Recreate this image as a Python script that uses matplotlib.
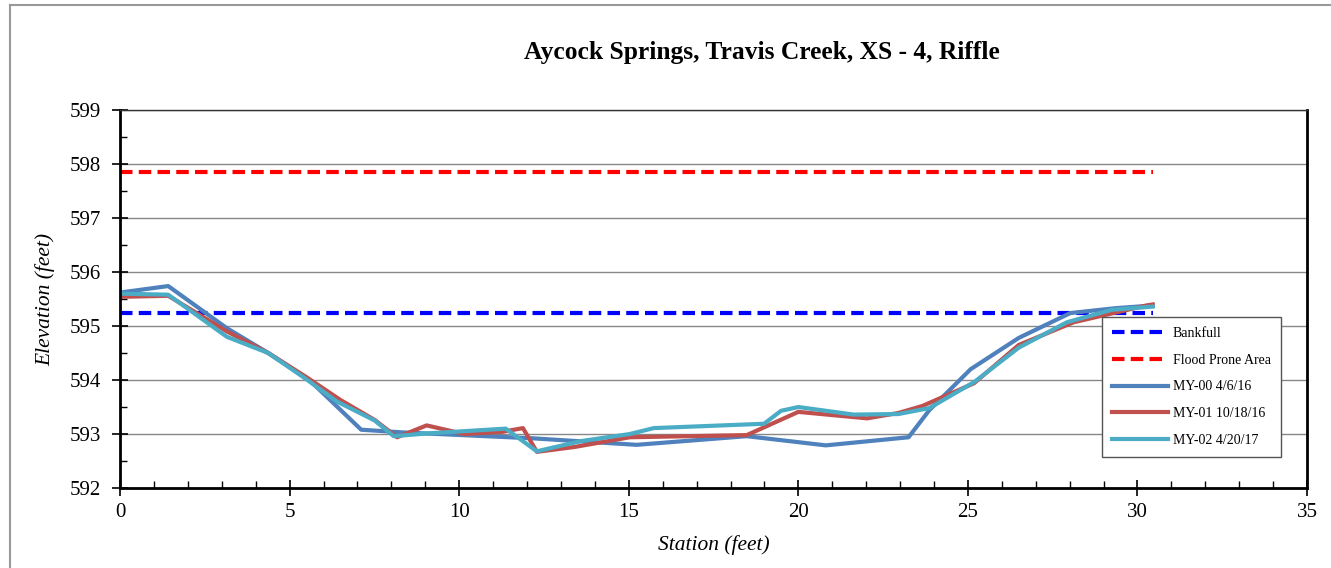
import matplotlib.pyplot as plt
from matplotlib.ticker import MultipleLocator
from matplotlib.lines import Line2D

plt.rcParams['font.family'] = ['Liberation Serif', 'DejaVu Serif']

# survey data (station ft, elevation ft)
st_00 = [0, 1.42, 3.15, 4.37, 5.58, 7.11, 8.33, 12.18, 15.23, 18.48, 20.81, 23.25, 23.86, 25.08, 26.5, 28.02, 29.34, 30.45]
el_00 = [595.62, 595.74, 594.96, 594.5, 594.0, 593.08, 593.03, 592.92, 592.8, 592.96, 592.79, 592.94, 593.44, 594.2, 594.78, 595.24, 595.33, 595.38]

st_01 = [0, 1.42, 3.15, 4.37, 5.48, 6.5, 7.51, 8.17, 9.04, 10.15, 11.27, 11.88, 12.29, 13.4, 15.03, 18.48, 20.0, 22.03, 22.95, 23.66, 25.18, 26.5, 28.12, 30.26, 30.45]
el_01 = [595.54, 595.56, 594.9, 594.5, 594.06, 593.63, 593.26, 592.94, 593.16, 593.0, 593.04, 593.11, 592.67, 592.76, 592.94, 592.98, 593.41, 593.29, 593.39, 593.52, 593.94, 594.65, 595.07, 595.38, 595.4]

st_02 = [0, 1.42, 3.15, 4.37, 5.48, 6.4, 7.51, 8.07, 9.04, 11.37, 12.29, 13.6, 15.03, 15.74, 18.99, 19.49, 20.0, 21.63, 22.95, 23.86, 25.18, 26.5, 27.92, 29.24, 30.45]
el_02 = [595.6, 595.58, 594.8, 594.5, 594.02, 593.6, 593.25, 592.96, 593.01, 593.1, 592.68, 592.87, 593.0, 593.11, 593.19, 593.43, 593.5, 593.36, 593.37, 593.48, 593.96, 594.6, 595.07, 595.3, 595.36]

bankfull = 595.25
flood_prone = 597.85
line_span = [0, 30.45]

fig = plt.figure(figsize=(13.31, 5.68), dpi=100)
ax = fig.add_axes([0.0902, 0.1408, 0.8918, 0.6655])

dash = (3, 1.5)
ax.plot(line_span, [bankfull] * 2, color='#0000FF', lw=3, dashes=dash, label='Bankfull')
ax.plot(line_span, [flood_prone] * 2, color='#FF0000', lw=3, dashes=dash, label='Flood Prone Area')
ax.plot(st_00, el_00, color='#4F81BD', lw=3, label='MY-00 4/6/16')
ax.plot(st_01, el_01, color='#C0504D', lw=3, label='MY-01 10/18/16')
ax.plot(st_02, el_02, color='#4BACC6', lw=3, label='MY-02 4/20/17')

ax.set_xlim(0, 35)
ax.set_ylim(592, 599)
ax.xaxis.set_major_locator(MultipleLocator(5))
ax.xaxis.set_minor_locator(MultipleLocator(1))
ax.yaxis.set_major_locator(MultipleLocator(1))
ax.yaxis.set_minor_locator(MultipleLocator(0.5))
ax.grid(axis='y', which='major', color='#888888', lw=1)
ax.set_axisbelow(True)

ax.spines['top'].set_linewidth(1)
ax.spines['top'].set_color('#333333')
for s in ['left', 'bottom', 'right']:
    ax.spines[s].set_linewidth(2)
ax.tick_params(which='major', direction='inout', length=12, width=1.2, labelsize=15)
ax.tick_params(axis='y', which='major', pad=8)
ax.tick_params(axis='x', which='major', pad=5)
ax.tick_params(which='minor', direction='in', length=5, width=1)

fig.text(762 / 1331, 1 - 52 / 568, 'Aycock Springs, Travis Creek, XS - 4, Riffle',
         fontsize=18.4, fontweight='bold', ha='center', va='center')
ax.set_xlabel('Station (feet)', fontsize=15.5, style='italic', labelpad=9)
ax.set_ylabel('Elevation (feet)', fontsize=15.5, style='italic', labelpad=10)

leg = ax.legend(loc='lower left', bbox_to_anchor=(0.827, 0.082), borderaxespad=0,
                fontsize=10, fancybox=False, edgecolor='#555555', framealpha=1,
                handlelength=4.0, labelspacing=0.98, borderpad=0.75, handletextpad=0.35)
leg.get_frame().set_linewidth(1)

# outer chart border
fig.add_artist(Line2D([0.0075, 1], [0.991, 0.991], color='#999999', lw=1.5))
fig.add_artist(Line2D([0.0075, 0.0075], [0, 0.991], color='#999999', lw=1.5))

fig.savefig('out.png', dpi=100)
